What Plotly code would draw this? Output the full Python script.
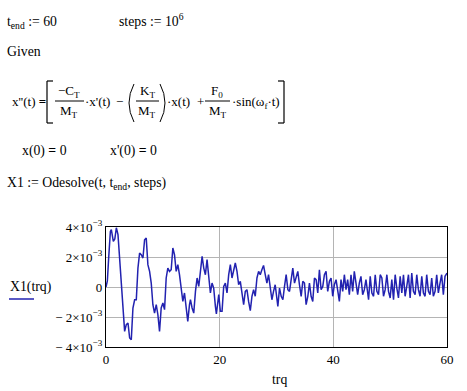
import plotly.graph_objects as go

# ---- data (time trq, response X1 in units of 1e-3) ----
TRQ = [0.00, 0.24, 0.47, 0.77, 0.94, 1.12, 1.29, 1.55, 1.82, 2.11, 2.40, 2.70, 2.99, 3.28, 3.57, 3.87,
       4.16, 4.45, 4.74, 5.04, 5.33, 5.62, 5.91, 6.20, 6.50, 6.79, 7.08, 7.37, 7.67, 7.96, 8.25, 8.54,
       8.84, 9.13, 9.42, 9.71, 10.01, 10.30, 10.59, 10.88, 11.18, 11.47, 11.76, 12.05, 12.35, 12.64,
       12.93, 13.22, 13.52, 13.81, 14.10, 14.39, 14.69,
       14.86, 15.15, 15.44, 15.74, 16.03, 16.32, 16.61, 16.91, 17.20, 17.49, 17.78, 18.08, 18.37,
       18.66, 18.95, 19.25, 19.42, 19.84, 20.12, 20.42, 20.71, 21.00, 21.29, 21.59, 21.88, 22.17,
       22.46, 22.75, 23.05, 23.34, 23.63, 23.92, 24.22, 24.51, 24.80, 25.09, 25.39, 25.68, 25.97,
       26.26, 26.56, 26.85, 27.14, 27.43, 27.72, 28.02, 28.31, 28.60, 28.89, 29.19, 29.48, 29.77,
       30.24, 30.53, 30.83, 31.12, 31.41, 31.70, 32.00, 32.29, 32.58, 32.87, 33.17, 33.46, 33.75,
       34.04, 34.34, 34.63, 34.92, 35.21, 35.51, 35.80, 36.09, 36.38, 36.68, 36.97, 37.26, 37.55,
       37.85, 38.14, 38.43, 38.72, 39.01, 39.31, 39.60, 39.89, 40.18, 40.48, 40.77, 41.06, 41.35,
       41.65, 41.94, 42.23, 42.52, 42.82, 43.11, 43.40, 43.69, 43.99, 44.28, 44.57, 44.86, 45.16,
       45.45, 45.74,
       45.91, 46.20, 46.49, 46.78, 47.08, 47.37, 47.66, 47.95, 48.25, 48.54, 48.83, 49.12, 49.42,
       49.71, 50.00, 50.29, 50.59, 50.88, 51.17, 51.46, 51.76, 52.05, 52.34, 52.63, 52.92, 53.22,
       53.51, 53.80, 54.09, 54.39, 54.68, 54.97, 55.26, 55.56, 55.85, 56.14, 56.43, 56.73, 57.02,
       57.31, 57.60, 57.90, 58.19, 58.48, 58.77, 59.06, 59.36, 59.65, 60.00]

X1_MILLI = [0.00, 0.40, 1.93, 3.71, 3.82, 3.30, 3.04, 3.20, 3.95, 3.49, 1.93, 0.15, -0.96, -2.96, -2.51, -2.40,
            -3.40, -3.51, -1.40, -0.85, -0.85, 1.26, 2.26, 2.15, 1.93, 3.15, 3.26, 1.49, 1.04, 0.26, -1.18, -1.74,
            -1.18, -1.85, -2.96, -1.40, -1.07, -1.51, 0.60, 1.26, 1.04, 1.15, 2.60, 2.15, 1.04, 1.49,
            0.82, -0.29, -0.96, -0.40, -1.62, -2.29, -1.18,
            -0.85, -1.40, -1.74, -0.29, 0.60, 0.04, 1.26, 2.04, 1.26, 0.82, 1.82, 0.71, -0.40,
            0.26, -0.07, -1.29, -1.80, -0.51, -1.62, -1.62, 0.04, 0.26, -0.40, 0.82, 1.49, 0.60,
            1.04, 1.60, 1.04, 0.15, 0.38, -0.51, -1.18, -0.29, -0.18, -0.96, -1.58, -0.62, -0.18,
            -0.62, 0.60, 1.04, 0.82, 1.15, 1.44, 0.82, 0.26, 0.82, 0.04, -0.85, -0.29, 0.15,
            -1.29, -0.07, -0.62, -0.85, 0.04, 0.82, -0.18, -0.29, 0.49, 1.26, 0.26, 0.60, 1.04,
            0.15, -0.62, 0.38, 0.26, -1.18, -0.62, 0.26, -0.62, -0.96, 0.60, 0.49, -0.40, 1.15,
            -0.18, 0.04, 0.82, 1.04, -0.29, 0.38, 0.60, -0.62, 0.15, 0.49, -0.29, -0.96, 0.49,
            -0.29, 0.82, -0.18, 0.49, -0.51, 0.82, -0.29, 1.04, 0.38, -0.51, 0.26, 0.71, -0.51,
            -0.18, 0.49,
            -0.18, -0.85, 0.71, -0.40, -0.62, 0.82, -0.29, -0.51, 0.82, 0.60, -0.62, -0.18, 0.82,
            -0.29, -0.73, 0.49, -0.85, 0.82, -0.07, -0.73, 0.71, -0.40, 0.82, -0.62, 0.04, 0.82,
            -0.73, 0.93, -0.29, -0.51, 0.82, -0.18, -0.62, 0.71, -0.40, -0.62, 0.82, -0.29, -0.51,
            0.60, -0.62, -0.29, 0.82, -0.40, 0.26, 0.82, -0.51, 0.71, 0.93]

assert len(TRQ) == len(X1_MILLI)

Y_TICK_VALUES = [-4e-3, -2e-3, 0, 2e-3, 4e-3]
Y_TICK_LABELS = ["− 4×10<sup>−3</sup>", "− 2×10<sup>−3</sup>", "0", "2×10<sup>−3</sup>", "4×10<sup>−3</sup>"]
X_TICK_VALUES = [0, 20, 40, 60]
X_TICK_LABELS = ["0", "20", "40", "60"]

# ---- layout geometry (pixels) ----
W, H = 467, 391
L, R, T, B = 106, 20, 227, 44
PW, PH = W - L - R, H - T - B
FONT = "Times New Roman, Liberation Serif, DejaVu Serif, serif"
BLUE = "#2222b0"
TS = 13.75   # plain text lines
ES = 13.0    # equation pieces


def px(x):
    return (x - L) / PW


def py(y):
    return (H - B - y) / PH


fig = go.Figure()
fig.add_trace(go.Scatter(x=TRQ, y=[v * 1e-3 for v in X1_MILLI], mode="lines",
                         line=dict(color=BLUE, width=1.5), hoverinfo="skip"))

annotations = []


def text(s, x, y, anchor="left", size=TS, color="black"):
    annotations.append(dict(text=s, x=px(x), y=py(y), xref="paper", yref="paper",
                            xanchor=anchor, yanchor="middle", showarrow=False,
                            font=dict(family=FONT, size=size, color=color)))


shapes = []


def path(cmds, width=1.2, color="black"):
    parts = []
    for cmd, pts in cmds:
        parts.append(cmd + " " + " ".join(f"{px(a):.5f},{py(b):.5f}" for a, b in pts))
    shapes.append(dict(type="path", path=" ".join(parts), xref="paper", yref="paper",
                       line=dict(color=color, width=width)))


def hline(x0, x1, y, width=1.0, color="black"):
    shapes.append(dict(type="line", x0=px(x0), x1=px(x1), y0=py(y), y1=py(y),
                       xref="paper", yref="paper", line=dict(color=color, width=width)))


def vline(x, y0, y1, width=1.2, color="black"):
    shapes.append(dict(type="line", x0=px(x), x1=px(x), y0=py(y0), y1=py(y1),
                       xref="paper", yref="paper", line=dict(color=color, width=width)))


# top definitions
text("t<sub>end</sub> := 60", 5, 23)
text("steps := 10<sup>6</sup>", 117, 20)
text("Given", 5, 52)

# ODE
text("x''(t) <b>=</b>", 10, 101, size=ES)
# left bracket
vline(47, 81, 123)
hline(47, 53, 81, width=1.2)
hline(47, 53, 123, width=1.2)
text("−C<sub>T</sub>", 69, 91, anchor="center", size=ES)
hline(55, 84, 101)
text("M<sub>T</sub>", 69, 111, anchor="center", size=ES)
text("·x'(t)", 83, 101, size=ES)
text("−", 119, 101, anchor="center", size=ES)
path([("M", [(134, 84)]), ("Q", [(124, 103), (134, 122)])], width=1.0)
text("K<sub>T</sub>", 147, 91, anchor="center", size=ES)
hline(136, 159, 101)
text("M<sub>T</sub>", 147, 111, anchor="center", size=ES)
path([("M", [(160, 84)]), ("Q", [(170, 103), (160, 122)])], width=1.0)
text("·x(t)", 165, 101, size=ES)
text("+", 200, 101, anchor="center", size=ES)
text("F<sub>0</sub>", 217, 91, anchor="center", size=ES)
hline(205, 230, 101)
text("M<sub>T</sub>", 218, 111, anchor="center", size=ES)
text("·sin(ω<sub>f</sub>·t)", 230, 102, size=ES)
# right bracket
vline(284, 81, 123)
hline(278, 284, 81, width=1.2)
hline(278, 284, 123, width=1.2)

# initial conditions
text("x(0) <b>=</b> 0", 20, 151)
text("x'(0) <b>=</b> 0", 108, 151)

# solve
text("X1 := Odesolve(t, t<sub>end</sub>, steps)", 5, 183)

# plot labels
text("X1(trq)", 8, 287)
hline(9, 34, 299, width=1.5, color=BLUE)
text("trq", 279, 379, anchor="center")

axis_common = dict(showline=True, linecolor="black", linewidth=1.2, mirror=True,
                   showgrid=True, gridcolor="#b4b4b4", gridwidth=1, zeroline=False,
                   ticks="", tickfont=dict(family=FONT, size=13, color="black"))

fig.update_layout(
    width=W, height=H, margin=dict(l=L, r=R, t=T, b=B, pad=0),
    paper_bgcolor="white", plot_bgcolor="white", showlegend=False,
    font=dict(family=FONT, size=TS, color="black"),
    xaxis=dict(range=[0, 60], tickvals=X_TICK_VALUES, ticktext=X_TICK_LABELS, **axis_common),
    yaxis=dict(range=[-4e-3, 4e-3], tickvals=Y_TICK_VALUES, ticktext=Y_TICK_LABELS, **axis_common),
    annotations=annotations, shapes=shapes,
)

fig.write_html("out.html")
